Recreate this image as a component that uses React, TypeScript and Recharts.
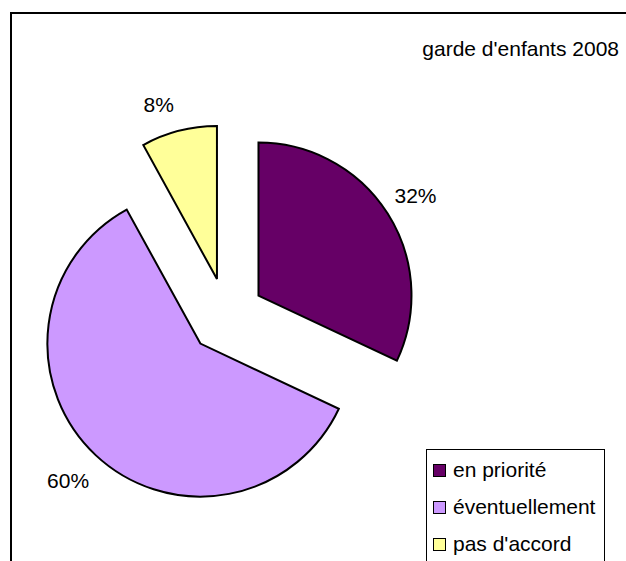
import { PieChart, Pie, Cell } from 'recharts';

const categories = ['en priorité', 'éventuellement', "pas d'accord"];
const values = [32, 60, 8];
const colors = ['#660066', '#CC99FF', '#FFFF99'];
const title = "garde d'enfants 2008";

const FONT = '"Liberation Sans", Arial, sans-serif';
const CX = 226.4;
const CY = 315.9;
const R = 153;
const EXPLODE = 38;
const LABEL_GAP = 33;
// small hand nudges so the percent labels sit where the original placed them
const LABEL_NUDGE = [
    [0, 0],
    [-5, 1],
    [-12, 6],
];

const total = values.reduce((s, v) => s + v, 0);
const data = categories.map((name, i) => ({ name, value: values[i] }));

// mid angle of each slice (recharts degrees, counter-clockwise from 3 o'clock), start at 12 o'clock going clockwise
const midAngles = values.map((v, i) => {
    const before = values.slice(0, i).reduce((s, x) => s + x, 0);
    return 90 - (360 * (before + v / 2)) / total;
});

const rad = (deg: number) => (deg * Math.PI) / 180;

export default function App() {
    return (
        <div style={{ position: 'relative', width: 626, height: 561, overflow: 'hidden', background: '#fff', fontFamily: FONT }}>
            <style>{`body{margin:0}`}</style>
            <div style={{ position: 'absolute', left: 10, top: 12, width: 800, height: 800, border: '2px solid #000' }} />
            <PieChart width={626} height={561} margin={{ top: 0, right: 0, bottom: 0, left: 0 }} style={{ position: 'absolute', left: 0, top: 0 }}>
                {categories.map((_, k) => {
                    const cx = CX + EXPLODE * Math.cos(rad(midAngles[k]));
                    const cy = CY - EXPLODE * Math.sin(rad(midAngles[k]));
                    const lx = cx + (R + LABEL_GAP) * Math.cos(rad(midAngles[k])) + LABEL_NUDGE[k][0];
                    const ly = cy - (R + LABEL_GAP) * Math.sin(rad(midAngles[k])) + LABEL_NUDGE[k][1];
                    return (
                        <Pie
                            key={k}
                            data={data}
                            dataKey="value"
                            cx={cx}
                            cy={cy}
                            innerRadius={0}
                            outerRadius={R}
                            startAngle={90}
                            endAngle={-270}
                            isAnimationActive={false}
                            labelLine={false}
                            label={(p: any) =>
                                p.index === k ? (
                                    <text x={lx} y={ly} textAnchor="middle" dominantBaseline="central" fontSize={21} fontFamily={FONT} fill="#000">
                                        {`${values[k]}%`}
                                    </text>
                                ) : (
                                    <g />
                                )
                            }
                        >
                            {data.map((_, i) => (
                                <Cell
                                    key={i}
                                    fill={i === k ? colors[i] : 'transparent'}
                                    stroke={i === k ? '#000' : 'none'}
                                    strokeWidth={2}
                                />
                            ))}
                        </Pie>
                    );
                })}
                <text x={619} y={56} textAnchor="end" fontSize={21} fontFamily={FONT} fill="#000">
                    {title}
                </text>
            </PieChart>
            <div style={{ position: 'absolute', left: 426, top: 449, width: 177, height: 200, border: '1px solid #000', background: '#fff' }}>
                {categories.map((c, i) => (
                    <div key={c} style={{ position: 'absolute', left: 0, top: 20 + i * 37 - 13, height: 26, display: 'flex', alignItems: 'center', whiteSpace: 'nowrap' }}>
                        <span style={{ display: 'inline-block', boxSizing: 'border-box', width: 13, height: 13, marginLeft: 6, background: colors[i], border: '1.5px solid #000' }} />
                        <span style={{ fontSize: 21, marginLeft: 7, color: '#000' }}>{c}</span>
                    </div>
                ))}
            </div>
        </div>
    );
}
